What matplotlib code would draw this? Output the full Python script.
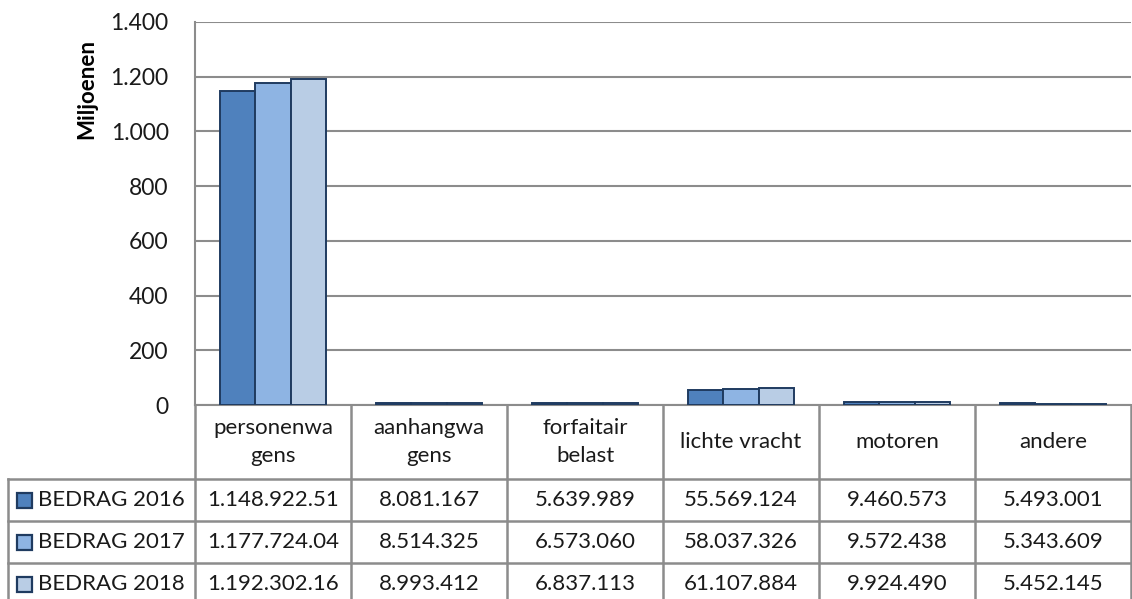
import numpy as np
import matplotlib
matplotlib.use("Agg")
import matplotlib.pyplot as plt
from matplotlib.patches import Rectangle

plt.rcParams['font.family'] = ['Lato', 'DejaVu Sans']

categories = ["personenwa\ngens", "aanhangwa\ngens", "forfaitair\nbelast",
              "lichte vracht", "motoren", "andere"]
series = ["BEDRAG 2016", "BEDRAG 2017", "BEDRAG 2018"]
bedrag_2016 = [1148922510, 8081167, 5639989, 55569124, 9460573, 5493001]
bedrag_2017 = [1177724040, 8514325, 6573060, 58037326, 9572438, 5343609]
bedrag_2018 = [1192302160, 8993412, 6837113, 61107884, 9924490, 5452145]
colors = ["#4F81BD", "#8EB4E3", "#B9CDE5"]
yticks = [0, 200, 400, 600, 800, 1000, 1200, 1400]

W, H = 1132, 599
fig = plt.figure(figsize=(W / 100, H / 100), dpi=100)
txt = "#1A1A1A"
fs = 16

# plot area in pixels
left, right, top, base = 195, 1131, 22, 405
ax = fig.add_axes([left / W, (H - base) / H, (right - left) / W, (base - top) / H])

data = [bedrag_2016, bedrag_2017, bedrag_2018]
x = np.arange(len(categories))
bw = 0.225
for k, vals in enumerate(data):
    ax.bar(x + (k - 1) * bw, np.array(vals) / 1e6, width=bw, color=colors[k],
           edgecolor="#1F3B60", linewidth=1.4, zorder=3)

ax.set_xlim(-0.5, len(categories) - 0.5)
ax.set_ylim(0, 1400)
ax.set_yticks(yticks)
ax.set_yticklabels([f"{v:,}".replace(",", ".") for v in yticks], fontsize=16.5, color=txt)
ax.tick_params(axis="y", length=0, pad=19)
ax.set_xticks([])
ax.yaxis.grid(True, color="#8C8C8C", linewidth=1.5, zorder=0)
for s in ["top", "right"]:
    ax.spines[s].set_visible(False)
ax.spines["left"].set_color("#8C8C8C")
ax.spines["left"].set_linewidth(1.5)
ax.spines["bottom"].set_color("#8C8C8C")
ax.spines["bottom"].set_linewidth(1.5)

# data table drawn on an overlay in pixel coordinates
tab = fig.add_axes([0, 0, 1, 1])
tab.set_xlim(0, W)
tab.set_ylim(H, 0)
tab.axis("off")

tab.text(87, 89, "Miljoenen", rotation=90, ha="center", va="center",
         fontsize=16, fontweight="bold", color="#000000")

edges = [ax.transData.transform((i - 0.5, 0))[0] for i in range(len(categories) + 1)]
hdr_top, hdr_bot, row_h = 405, 479, 42
row_left = 8
lc = "#8C8C8C"
lw = 1.8
bottom = hdr_bot + row_h * len(series) + 5

# vertical lines
for ex in edges:
    tab.plot([ex, ex], [hdr_top, bottom], color=lc, lw=lw, solid_capstyle="butt")
tab.plot([row_left, row_left], [hdr_bot, bottom], color=lc, lw=lw)
# horizontal lines
for r in range(len(series)):
    y = hdr_bot + r * row_h
    tab.plot([row_left, edges[-1]], [y, y], color=lc, lw=lw)

for i, c in enumerate(categories):
    cx = (edges[i] + edges[i + 1]) / 2
    tab.text(cx, (hdr_top + hdr_bot) / 2, c, ha="center", va="center",
             fontsize=fs, color=txt, linespacing=1.45)

def fmt(v):
    s = f"{v:,}".replace(",", ".")
    return s[:12]

for r, (name, vals) in enumerate(zip(series, data)):
    cy = hdr_bot + r * row_h + row_h / 2
    tab.add_patch(Rectangle((17, cy - 7.5), 15, 15, facecolor=colors[r],
                            edgecolor="#1F3B60", lw=1.6))
    tab.text(38, cy, name, ha="left", va="center", fontsize=fs, color=txt)
    for i, v in enumerate(vals):
        cx = (edges[i] + edges[i + 1]) / 2
        tab.text(cx, cy, fmt(v), ha="center", va="center", fontsize=fs, color=txt)

fig.savefig("out.png", dpi=100)
